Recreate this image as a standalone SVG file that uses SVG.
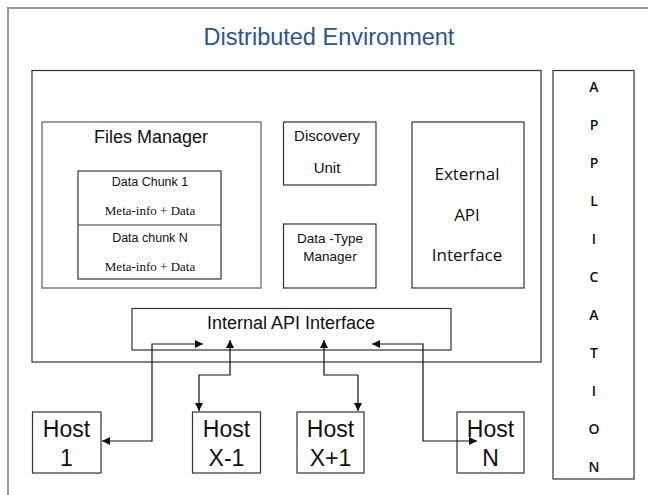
<svg xmlns="http://www.w3.org/2000/svg" width="648" height="495" viewBox="0 0 648 495">
  <defs>
    <marker id="arrow" viewBox="0 0 10 10" refX="10" refY="5" markerWidth="8" markerHeight="8" markerUnits="userSpaceOnUse" orient="auto-start-reverse">
      <path d="M0,0 L10,5 L0,10 z" fill="#111"/>
    </marker>
    <style>
      .box { fill: #fff; stroke: #333; stroke-width: 1.2; }
      .soft { fill: #fff; stroke: #777; stroke-width: 1.4; }
      .sans { font-family: "Liberation Sans", Arial, sans-serif; fill: #111; text-anchor: middle; }
      .serif { font-family: "Liberation Serif", "Times New Roman", serif; fill: #111; text-anchor: middle; }
      .cal { font-family: "Open Sans", "Noto Sans", sans-serif; fill: #111; text-anchor: middle; }
      .link { fill: none; stroke: #111; stroke-width: 1.2; }
    </style>
  </defs>

  <rect width="648" height="495" fill="#fff"/>

  <!-- outer frame of the environment -->
  <g id="environment">
    <rect x="8" y="8" width="660" height="500" fill="none" stroke="#999" stroke-width="2"/>
    <text x="329" y="45" class="sans" font-size="23.5" style="fill:#2a5595">Distributed Environment</text>
  </g>

  <!-- main container -->
  <g id="core">
    <rect x="32" y="70.5" width="509" height="291.5" class="box"/>
  </g>

  <g id="files-manager">
    <rect x="42" y="122" width="219" height="166" class="soft"/>
    <text x="151" y="143" class="sans" font-size="18">Files Manager</text>
  </g>

  <g id="data-chunks">
    <rect x="78" y="171" width="143" height="108" class="box"/>
    <line x1="78" y1="225" x2="221" y2="225" stroke="#333" stroke-width="1.2"/>
    <text x="150" y="186" class="sans" font-size="12.5">Data Chunk 1</text>
    <text x="150" y="215" class="serif" font-size="13">Meta-info + Data</text>
    <text x="150" y="242" class="sans" font-size="12.5">Data chunk N</text>
    <text x="150" y="271" class="serif" font-size="13">Meta-info + Data</text>
  </g>

  <g id="discovery-unit">
    <rect x="283.5" y="122" width="92.5" height="63" class="box"/>
    <text x="327" y="141" class="sans" font-size="15">Discovery</text>
    <text x="327" y="173" class="sans" font-size="15">Unit</text>
  </g>

  <g id="data-type-manager">
    <rect x="283.5" y="224" width="92.5" height="64" class="box"/>
    <text x="330" y="243" class="sans" font-size="13.5">Data -Type</text>
    <text x="330" y="261" class="sans" font-size="13.5">Manager</text>
  </g>

  <g id="external-api">
    <rect x="412" y="122" width="112" height="166" class="box"/>
    <text x="467" y="180" class="cal" font-size="17">External</text>
    <text x="467" y="221" class="cal" font-size="17">API</text>
    <text x="467" y="261" class="cal" font-size="17">Interface</text>
  </g>

  <g id="internal-api">
    <rect x="132" y="308.5" width="319" height="41.5" class="box"/>
    <text x="291" y="329" class="sans" font-size="18">Internal API Interface</text>
  </g>

  <g id="application">
    <rect x="553" y="70.5" width="81" height="408.5" class="box"/>
    <g class="cal" font-size="14" font-weight="600">
      <text x="594" y="92">A</text>
      <text x="594" y="130">P</text>
      <text x="594" y="168">P</text>
      <text x="594" y="206">L</text>
      <text x="594" y="244">I</text>
      <text x="594" y="282">C</text>
      <text x="594" y="320">A</text>
      <text x="594" y="358">T</text>
      <text x="594" y="396">I</text>
      <text x="594" y="434">O</text>
      <text x="594" y="472">N</text>
    </g>
  </g>

  <g id="host-1">
    <rect x="32.5" y="412" width="68.5" height="61" class="box"/>
    <text x="66.5" y="437" class="sans" font-size="23">Host</text>
    <text x="66.5" y="466" class="sans" font-size="23">1</text>
  </g>

  <g id="host-x-1">
    <rect x="192.5" y="412" width="68" height="61" class="box"/>
    <text x="226.5" y="437" class="sans" font-size="23">Host</text>
    <text x="226.5" y="466" class="sans" font-size="23">X-1</text>
  </g>

  <g id="host-x-plus-1">
    <rect x="297" y="412" width="67" height="61" class="box"/>
    <text x="330.5" y="437" class="sans" font-size="23">Host</text>
    <text x="330.5" y="466" class="sans" font-size="23">X+1</text>
  </g>

  <g id="host-n">
    <rect x="457" y="412" width="67" height="61" class="box"/>
    <text x="490.5" y="437" class="sans" font-size="23">Host</text>
    <text x="490.5" y="466" class="sans" font-size="23">N</text>
  </g>

  <!-- links between hosts and the internal API -->
  <g id="connectors">
    <path class="link" d="M203,344 H152 V441 H102" marker-start="url(#arrow)" marker-end="url(#arrow)"/>
    <path class="link" d="M230,340 V375 H199 V411" marker-start="url(#arrow)" marker-end="url(#arrow)"/>
    <path class="link" d="M324,340 V375 H358 V411" marker-start="url(#arrow)" marker-end="url(#arrow)"/>
    <path class="link" d="M372,344 H423 V441 H477" marker-start="url(#arrow)" marker-end="url(#arrow)"/>
  </g>
</svg>
